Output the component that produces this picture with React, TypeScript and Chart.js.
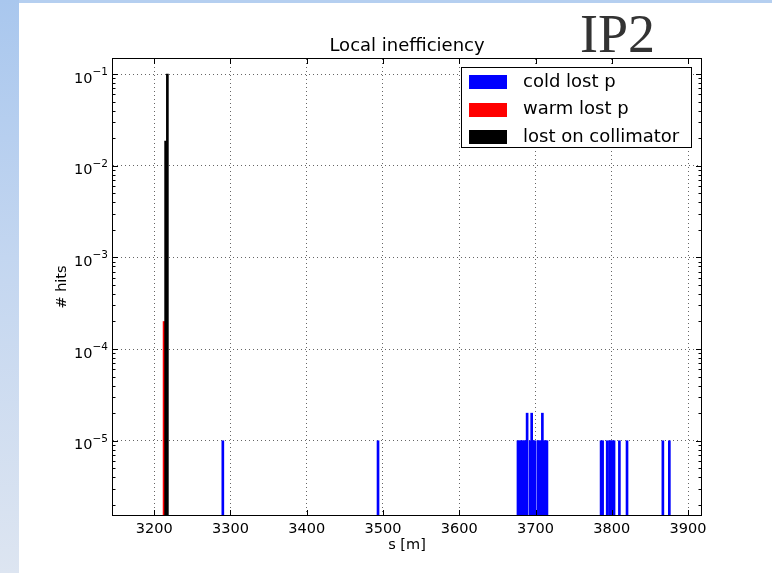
import React, { useEffect, useRef } from 'react';
import { Chart, registerables } from 'chart.js';

Chart.register(...registerables);

// ---- data ----
const xMinS = 3146;
const xMaxS = 3917;
const yMinHits = 1.55e-6;
const yMaxHits = 0.146;

const xTickValues = [3200, 3300, 3400, 3500, 3600, 3700, 3800, 3900];
const yTickValues = [1e-5, 1e-4, 1e-3, 1e-2, 1e-1];
const yTickBase = '10';
const yTickExponents = ['−5', '−4', '−3', '−2', '−1'];

const seriesLabels = ['cold lost p', 'warm lost p', 'lost on collimator'];

// cold lost p: s [m] and # hits
const coldS = [
  3290, 3493.5,
  3677, 3679, 3681, 3683, 3685, 3687, 3689, 3693, 3695, 3697, 3699,
  3703, 3705, 3707, 3709, 3711, 3713, 3715,
  3786, 3788, 3794, 3797, 3799, 3801, 3803, 3810, 3820, 3867, 3875.5,
];
const coldHits = [
  1e-5, 1e-5,
  1e-5, 1e-5, 1e-5, 1e-5, 1e-5, 1e-5, 2e-5, 1e-5, 2e-5, 1e-5, 1e-5,
  1e-5, 1e-5, 1e-5, 2e-5, 1e-5, 1e-5, 1e-5,
  1e-5, 1e-5, 1e-5, 1e-5, 1e-5, 1e-5, 1e-5, 1e-5, 1e-5, 1e-5, 1e-5,
];

// warm lost p
const warmS = [3212.7];
const warmHits = [2e-4];

// lost on collimator
const collS = [3215, 3217.3];
const collHits = [0.0186, 0.1];

const titleText = 'Local inefficiency';
const xTitle = 's [m]';
const yTitle = '# hits';
const slideTitle = 'IP2';

const FONT = '"DejaVu Sans", "Bitstream Vera Sans", sans-serif';

const framePlugin = {
  id: 'framePlugin',
  afterDatasetsDraw(chart: any) {
    const { ctx, chartArea: a, scales } = chart;
    const xs = scales.x;
    const ys = scales.y;
    const L = Math.round(a.left);
    const R = Math.round(a.right);
    const T = Math.round(a.top);
    const B = Math.round(a.bottom);
    ctx.save();
    ctx.strokeStyle = '#000';
    ctx.lineWidth = 1;
    ctx.beginPath();
    for (const v of xTickValues) {
      const px = Math.round(xs.getPixelForValue(v)) + 0.5;
      ctx.moveTo(px, B);
      ctx.lineTo(px, B - 5);
      ctx.moveTo(px, T);
      ctx.lineTo(px, T + 5);
    }
    for (const v of yTickValues) {
      const py = Math.round(ys.getPixelForValue(v)) + 0.5;
      ctx.moveTo(L, py);
      ctx.lineTo(L + 5, py);
      ctx.moveTo(R, py);
      ctx.lineTo(R - 5, py);
    }
    for (let e = -7; e <= 0; e++) {
      for (let m = 2; m <= 9; m++) {
        const v = m * Math.pow(10, e);
        if (v <= ys.min || v >= ys.max) continue;
        const py = Math.round(ys.getPixelForValue(v)) + 0.5;
        ctx.moveTo(L, py);
        ctx.lineTo(L + 2.5, py);
        ctx.moveTo(R, py);
        ctx.lineTo(R - 2.5, py);
      }
    }
    ctx.stroke();
    ctx.strokeRect(L - 0.5, T - 0.5, R - L + 1, B - T + 1);

    // y tick labels as 10 with a raised exponent
    ctx.fillStyle = '#000';
    ctx.textAlign = 'right';
    ctx.textBaseline = 'alphabetic';
    yTickValues.forEach((v, i) => {
      const py = ys.getPixelForValue(v);
      const xr = L - 5;
      ctx.font = '10.5px ' + FONT;
      const exp = yTickExponents[i];
      const w = ctx.measureText(exp).width;
      ctx.fillText(exp, xr, py + 1);
      ctx.font = '14.5px ' + FONT;
      ctx.fillText(yTickBase, xr - w, py + 8.7);
    });

    // legend box (upper right, inside the axes)
    const bw = 230;
    const bh = 80;
    const bx = Math.round(a.right - 10 - bw);
    const by = Math.round(a.top + 8);
    ctx.fillStyle = '#fff';
    ctx.fillRect(bx, by, bw, bh);
    ctx.strokeRect(bx + 0.5, by + 0.5, bw, bh);
    chart.data.datasets.forEach((ds: any, i: number) => {
      const cy = by + 15 + i * 27.7;
      ctx.fillStyle = ds.backgroundColor;
      ctx.fillRect(bx + 8, Math.round(cy - 7), 38, 14);
      ctx.fillStyle = '#000';
      ctx.font = '18px ' + FONT;
      ctx.textBaseline = 'middle';
      ctx.textAlign = 'left';
      ctx.fillText(ds.label, bx + 62, cy);
    });

    // slide heading
    ctx.fillStyle = '#333333';
    ctx.font = '54px "Liberation Serif", "Times New Roman", serif';
    ctx.textBaseline = 'alphabetic';
    ctx.textAlign = 'left';
    ctx.fillText(slideTitle, 580, 52);
    ctx.restore();
  },
};

export default function App() {
  const canvasRef = useRef<HTMLCanvasElement | null>(null);

  useEffect(() => {
    const canvas = canvasRef.current;
    if (!canvas) return;
    Chart.defaults.font.family = FONT;
    const chart = new Chart(canvas, {
      type: 'bar',
      data: {
        datasets: [
          {
            label: seriesLabels[0],
            data: coldS.map((s, i) => ({ x: s, y: coldHits[i] })),
            backgroundColor: '#0000ff',
            barThickness: 2,
            order: 2,
          },
          {
            label: seriesLabels[1],
            data: warmS.map((s, i) => ({ x: s, y: warmHits[i] })),
            backgroundColor: '#ff0000',
            barThickness: 1.6,
            order: 1,
          },
          {
            label: seriesLabels[2],
            data: collS.map((s, i) => ({ x: s, y: collHits[i] })),
            backgroundColor: '#000000',
            barThickness: 2,
            order: 0,
          },
        ] as any,
      },
      options: {
        animation: false,
        responsive: false,
        maintainAspectRatio: false,
        devicePixelRatio: 1,
        datasets: { bar: { grouped: false } } as any,
        layout: { padding: { left: 0, right: 71, top: 0, bottom: 0 } },
        plugins: {
          legend: { display: false },
          tooltip: { enabled: false },
          title: {
            display: true,
            text: titleText,
            fullSize: false,
            color: '#000',
            font: { size: 18, weight: 'normal', family: FONT },
            padding: { top: 36, bottom: 1.4 },
          },
        },
        scales: {
          x: {
            type: 'linear',
            min: xMinS,
            max: xMaxS,
            offset: false,
            grid: { offset: false, drawTicks: false, color: 'rgba(0,0,0,0.6)', lineWidth: 1 },
            border: { display: false, dash: [1, 3] },
            ticks: {
              color: '#000',
              font: { size: 14.5, family: FONT },
              padding: 6,
              autoSkip: false,
              maxRotation: 0,
              callback: (v: any) => String(v),
            },
            title: {
              display: true,
              text: xTitle,
              color: '#000',
              font: { size: 14.5, family: FONT },
              padding: { top: 19, bottom: 19 },
            },
            afterBuildTicks: (scale: any) => {
              scale.ticks = xTickValues.map((value) => ({ value }));
            },
            afterFit: (scale: any) => {
              scale.height = 58;
            },
          },
          y: {
            type: 'logarithmic',
            min: yMinHits,
            max: yMaxHits,
            grid: { drawTicks: false, color: 'rgba(0,0,0,0.6)', lineWidth: 1 },
            border: { display: false, dash: [1, 3] },
            ticks: { display: false },
            title: {
              display: true,
              text: yTitle,
              color: '#000',
              font: { size: 14.5, family: FONT },
              padding: { top: 54, bottom: 54 },
            },
            afterBuildTicks: (scale: any) => {
              scale.ticks = yTickValues.map((value) => ({ value, major: true }));
            },
            afterFit: (scale: any) => {
              scale.width = 113;
            },
          },
        } as any,
      },
      plugins: [framePlugin],
    });
    return () => chart.destroy();
  }, []);

  return (
    <div
      style={{
        position: 'fixed',
        left: 0,
        top: 0,
        width: 772,
        height: 573,
        overflow: 'hidden',
        background: '#b5cff0',
      }}
    >
      <div
        style={{
          position: 'absolute',
          left: 0,
          top: 0,
          width: 19,
          height: 573,
          background: 'linear-gradient(to bottom, #a9c7ee 0%, #c3d6f0 45%, #dde5f1 100%)',
        }}
      />
      <div
        style={{
          position: 'absolute',
          left: 19,
          top: 3,
          width: 753,
          height: 570,
          background: '#ffffff',
        }}
      />
      <canvas
        ref={canvasRef}
        width={772}
        height={573}
        style={{ position: 'absolute', left: 0, top: 0, width: 772, height: 573 }}
      />
    </div>
  );
}
